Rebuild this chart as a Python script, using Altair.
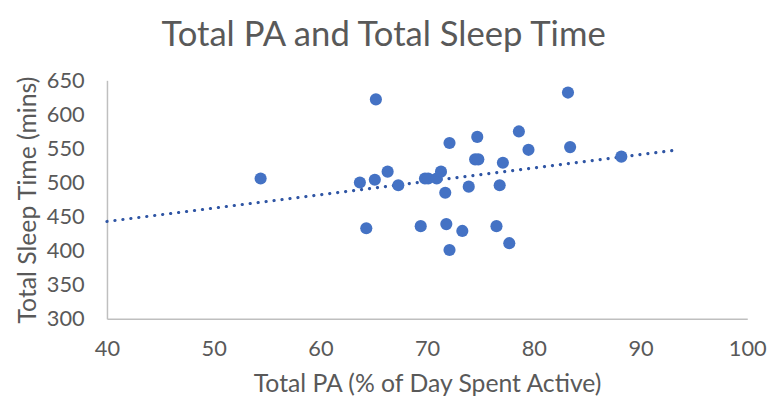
import altair as alt
import pandas as pd

pa = [54.4, 65.2, 63.7, 65.1, 66.3, 67.3, 64.3, 69.8, 70.1, 70.9, 71.3, 71.7,
      72.1, 69.4, 71.8, 72.1, 73.3, 73.9, 74.7, 74.5, 74.8, 77.1, 76.8, 76.5,
      77.7, 78.6, 79.5, 83.2, 83.4, 88.2]
sleep = [506, 622, 500, 504, 516, 496, 433, 506, 506, 506, 516, 485,
         558, 436, 439, 401, 429, 494, 567, 534, 534, 529, 496, 436,
         411, 575, 548, 632, 552, 538]

x_ticks = [40, 50, 60, 70, 80, 90, 100]
y_ticks = [300, 350, 400, 450, 500, 550, 600, 650]

df = pd.DataFrame({"pa": pa, "sleep": sleep})

grey = "#595959"
blue = "#4472C4"
font = "Lato"

x = alt.X("pa:Q", scale=alt.Scale(domain=[40, 100], nice=False, zero=False),
          axis=alt.Axis(values=x_ticks, title="Total PA (% of Day Spent Active)",
                        grid=False, ticks=False, domainColor="#BFBFBF", domainWidth=1.5,
                        labelColor=grey, labelFontSize=22, labelFont=font, labelPadding=20,
                        labelFlush=False,
                        titleColor=grey, titleFontSize=25, titleFont=font, titleFontWeight="normal",
                        titlePadding=12))
y = alt.Y("sleep:Q", scale=alt.Scale(domain=[300, 650], nice=False, zero=False),
          axis=alt.Axis(values=y_ticks, title="Total Sleep Time  (mins)",
                        grid=False, ticks=False, domainColor="#BFBFBF", domainWidth=1.5,
                        labelColor=grey, labelFontSize=22, labelFont=font, labelPadding=23,
                        labelFlush=False,
                        titleColor=grey, titleFontSize=25, titleFont=font, titleFontWeight="normal",
                        titlePadding=6))

points = alt.Chart(df).mark_circle(size=150, color=blue, opacity=1).encode(x=x, y=y)

trend = alt.Chart(df).transform_regression(
    "pa", "sleep", extent=[40, 93.3]
).mark_line(color="#2F55A4", strokeWidth=3.2, strokeDash=[0.1, 8], strokeCap="round").encode(x=x, y=y)

chart = alt.layer(trend, points).properties(
    width=647, height=241,
    title=alt.TitleParams("Total PA and Total Sleep Time", fontSize=35, font=font,
                          fontWeight="normal", color=grey, anchor="middle", offset=17, dx=-44),
    autosize=alt.AutoSizeParams(type="none"),
    padding={"left": 100, "top": 71, "right": 25, "bottom": 85},
).configure_view(stroke=None)

chart.save("out.html", embed_options={"renderer": "svg", "actions": False})
